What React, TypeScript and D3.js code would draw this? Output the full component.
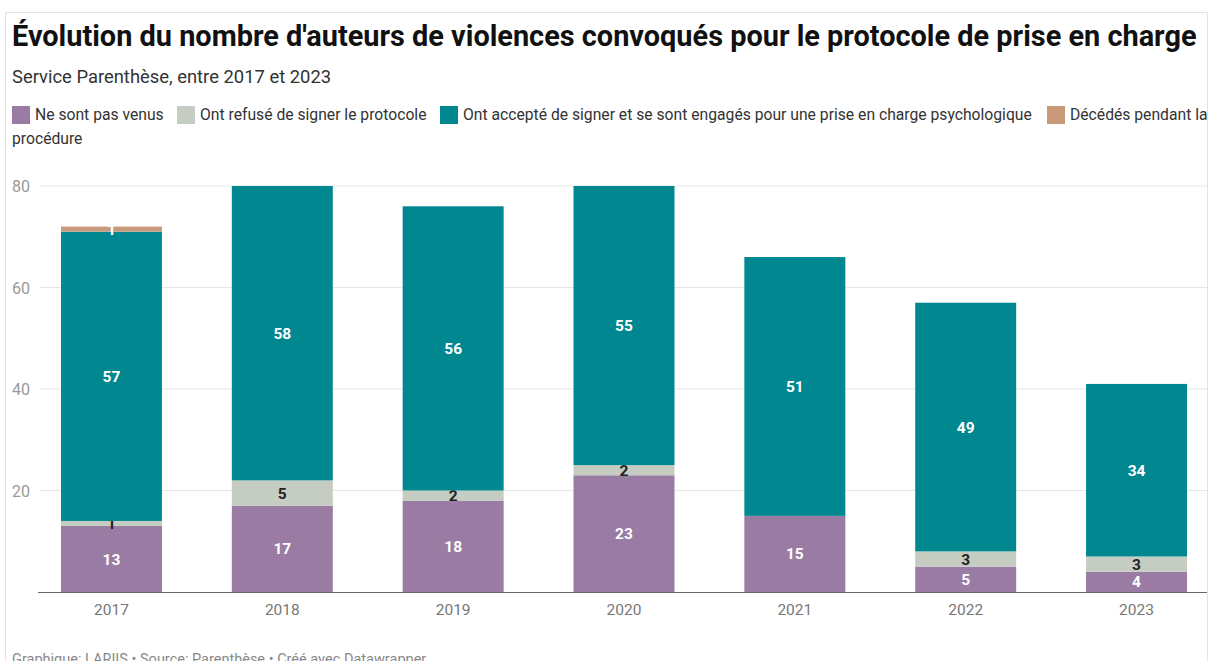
import React from "react";
import * as d3 from "d3";

const years = ["2017", "2018", "2019", "2020", "2021", "2022", "2023"];
const seriesNames = [
  "Ne sont pas venus",
  "Ont refusé de signer le protocole",
  "Ont accepté de signer et se sont engagés pour une prise en charge psychologique",
  "Décédés pendant la procédure",
];
const notCome = [13, 17, 18, 23, 15, 5, 4];
const refused = [1, 5, 2, 2, 0, 3, 3];
const accepted = [57, 58, 56, 55, 51, 49, 34];
const deceased = [1, 0, 0, 0, 0, 0, 0];
const yTicks = [0, 20, 40, 60, 80];
const colors = ["#997ba3", "#c5ccc2", "#00878f", "#c99a7a"];
const labelColors = ["#ffffff", "#222222", "#ffffff", "#ffffff"];

const W = 1212;
const H = 661;
const FONT = "Roboto, 'Noto Sans', sans-serif";

export default function App() {
  const series = [notCome, refused, accepted, deceased];
  const rows = years.map((y, i) => ({
    year: y,
    s0: series[0][i],
    s1: series[1][i],
    s2: series[2][i],
    s3: series[3][i],
  }));
  const stack = d3.stack<any>().keys(["s0", "s1", "s2", "s3"])(rows);

  const x = d3.scaleBand().domain(years).range([43.9, 1204.1]).paddingInner(0.409).paddingOuter(0.1);
  const y = d3.scaleLinear().domain([0, 80]).range([592, 186]);

  const legendFont = 15.7;
  const legendPos = [
    { sx: 12, tx: 35 },
    { sx: 177, tx: 200 },
    { sx: 440, tx: 463 },
    { sx: 1047, tx: 1070 },
  ];

  return (
    <svg width={W} height={H} style={{ position: "absolute", left: 0, top: 0, background: "#fff" }}>
      <defs>
        <clipPath id="frame">
          <rect x={5} y={12} width={1202} height={680} />
        </clipPath>
      </defs>
      <rect x={5.5} y={12.5} width={1202} height={680} fill="none" stroke="#e3e3e3" />
      <text x={12} y={46} fontFamily={FONT} fontWeight={700} fontSize={28.9} fill="#111">
        Évolution du nombre d'auteurs de violences convoqués pour le protocole de prise en charge
      </text>
      <text x={12} y={83} fontFamily={FONT} fontSize={18.4} fill="#333">
        Service Parenthèse, entre 2017 et 2023
      </text>
      <g fontFamily={FONT} fontSize={legendFont} fill="#333" clipPath="url(#frame)">
        {seriesNames.map((name, i) => (
          <g key={name}>
            <rect x={legendPos[i].sx} y={106} width={18} height={18} fill={colors[i]} />
            <text x={legendPos[i].tx} y={120}>
              {i === 3 ? "Décédés pendant la" : name}
            </text>
          </g>
        ))}
        <text x={12} y={144}>procédure</text>
      </g>
      <g>
        {yTicks.filter((t) => t > 0).map((t) => (
          <line key={t} x1={40} x2={1207} y1={y(t)} y2={y(t)} stroke="#e6e6e6" />
        ))}
        {yTicks.filter((t) => t > 0).map((t) => (
          <text key={"l" + t} x={12} y={y(t) + 6} fontFamily={FONT} fontSize={16} fill="#999">
            {t}
          </text>
        ))}
      </g>
      {stack.map((layer, si) => (
        <g key={si}>
          {layer.map((d, i) => {
            const v = d[1] - d[0];
            if (v <= 0) return null;
            const bx = x(years[i])!;
            const y0 = y(d[0]);
            const y1 = y(d[1]);
            return (
              <g key={i}>
                <rect x={bx} y={y1} width={x.bandwidth()} height={y0 - y1} fill={colors[si]} />
                <text
                  x={bx + x.bandwidth() / 2}
                  y={(y0 + y1) / 2 + 5.5}
                  textAnchor="middle"
                  fontFamily={FONT}
                  fontWeight={700}
                  fontSize={15.5}
                  fill={labelColors[si]}
                >
                  {v}
                </text>
              </g>
            );
          })}
        </g>
      ))}
      <line x1={38} x2={1207} y1={592.5} y2={592.5} stroke="#666" strokeWidth={1.2} />
      {years.map((yr) => (
        <text
          key={yr}
          x={x(yr)! + x.bandwidth() / 2}
          y={615}
          textAnchor="middle"
          fontFamily={FONT}
          fontSize={15.5}
          fill="#777"
        >
          {yr}
        </text>
      ))}
      <text x={12} y={664} fontFamily={FONT} fontSize={14.5} fill="#888">
        Graphique: LARIIS • Source: Parenthèse • Créé avec Datawrapper
      </text>
    </svg>
  );
}
